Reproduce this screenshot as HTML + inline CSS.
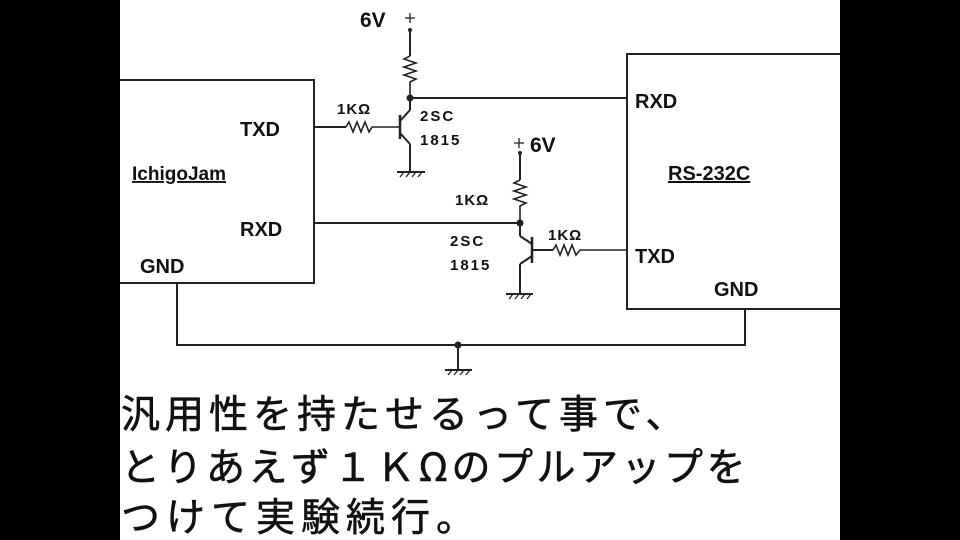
<!DOCTYPE html>
<html><head><meta charset="utf-8"><style>
html,body{margin:0;padding:0;background:#000;}
svg{display:block}
</style></head><body>
<svg width="960" height="540" viewBox="0 0 960 540" xmlns="http://www.w3.org/2000/svg">
<rect x="0" y="0" width="960" height="540" fill="#000"/>
<rect x="120" y="0" width="720" height="540" fill="#fff"/>
<g stroke="#222" stroke-width="2" fill="none">
<polyline points="120,80 314,80 314,283 120,283"/>
<polyline points="840,54 627,54 627,309 840,309"/>
<line x1="410" y1="30" x2="410" y2="56"/>
<polyline points="410,56 404,59 416,63 404,67 416,71 404,75 416,79 410,82 410,98" stroke-width="1.6"/>
<line x1="410" y1="98" x2="627" y2="98"/>
<line x1="410" y1="98" x2="410" y2="110"/>
<line x1="314" y1="127" x2="346" y2="127"/>
<polyline points="346,127 349,122 353,132 357,122 361,132 365,122 369,132 372,127 400,127" stroke-width="1.6"/>
<line x1="400" y1="115" x2="400" y2="139" stroke-width="2.5"/>
<line x1="400" y1="121" x2="410" y2="110"/>
<line x1="400" y1="133" x2="410" y2="144"/>
<line x1="410" y1="144" x2="410" y2="172"/>
<line x1="397" y1="172" x2="425" y2="172"/>
<line x1="520" y1="153" x2="520" y2="180"/>
<polyline points="520,180 514,183 526,187 514,191 526,195 514,199 526,203 520,206 520,223" stroke-width="1.6"/>
<line x1="314" y1="223" x2="520" y2="223"/>
<line x1="520" y1="223" x2="520" y2="236"/>
<line x1="532" y1="237" x2="532" y2="263" stroke-width="2.5"/>
<line x1="532" y1="244" x2="520" y2="236"/>
<line x1="532" y1="256" x2="520" y2="264"/>
<line x1="520" y1="264" x2="520" y2="294"/>
<line x1="506" y1="294" x2="533" y2="294"/>
<line x1="532" y1="250" x2="553" y2="250"/>
<polyline points="553,250 556,245 560,255 564,245 568,255 572,245 576,255 580,250 627,250" stroke-width="1.6"/>
<polyline points="177,283 177,345 745,345 745,309"/>
<line x1="458" y1="345" x2="458" y2="370"/>
<line x1="445" y1="370" x2="472" y2="370"/>
</g>
<g stroke="#222" stroke-width="1.3">
<line x1="400" y1="177" x2="404" y2="172"/><line x1="406" y1="177" x2="410" y2="172"/><line x1="412" y1="177" x2="416" y2="172"/><line x1="418" y1="177" x2="422" y2="172"/>
<line x1="509" y1="299" x2="513" y2="294"/><line x1="515" y1="299" x2="519" y2="294"/><line x1="521" y1="299" x2="525" y2="294"/><line x1="527" y1="299" x2="531" y2="294"/>
<line x1="448" y1="375" x2="452" y2="370"/><line x1="454" y1="375" x2="458" y2="370"/><line x1="460" y1="375" x2="464" y2="370"/><line x1="466" y1="375" x2="470" y2="370"/>
<line x1="405" y1="18" x2="415" y2="18"/><line x1="410" y1="13" x2="410" y2="23"/>
<line x1="514" y1="143" x2="524" y2="143"/><line x1="519" y1="138" x2="519" y2="148"/>
</g>
<g fill="#222">
<circle cx="410" cy="98" r="3.5"/><circle cx="520" cy="223" r="3.5"/><circle cx="458" cy="345" r="3.5"/>
<circle cx="410" cy="30" r="2"/><circle cx="520" cy="153" r="2"/>
</g>
<g font-family="Liberation Sans, sans-serif" font-weight="bold" fill="#111">
<text x="360" y="27" font-size="21">6V</text>
<text x="530" y="152" font-size="21">6V</text>
<text x="240" y="136" font-size="20">TXD</text>
<text x="240" y="236" font-size="20">RXD</text>
<text x="140" y="273" font-size="20">GND</text>
<text x="132" y="180" font-size="19" text-decoration="underline">IchigoJam</text>
<text x="668" y="180" font-size="20" text-decoration="underline">RS-232C</text>
<text x="635" y="108" font-size="20">RXD</text>
<text x="635" y="263" font-size="20">TXD</text>
<text x="714" y="296" font-size="20">GND</text>
<text x="337" y="114" font-size="15" letter-spacing="1">1KΩ</text>
<text x="455" y="205" font-size="15" letter-spacing="1">1KΩ</text>
<text x="548" y="240" font-size="15" letter-spacing="1">1KΩ</text>
<text x="420" y="121" font-size="15" letter-spacing="2">2SC</text>
<text x="420" y="145" font-size="15" letter-spacing="2">1815</text>
<text x="450" y="246" font-size="15" letter-spacing="2">2SC</text>
<text x="450" y="270" font-size="15" letter-spacing="2">1815</text>
</g>
<g font-family="'Noto Sans CJK JP', sans-serif" font-size="39" fill="#111" stroke="#111" stroke-width="0.6">
<text x="121" y="428" letter-spacing="5">汎用性を持たせるって事で、</text>
<text x="121" y="481" letter-spacing="3.5">とりあえず１ＫΩのプルアップを</text>
<text x="121" y="531" letter-spacing="6">つけて実験続行。</text>
</g>
</svg>
</body></html>
